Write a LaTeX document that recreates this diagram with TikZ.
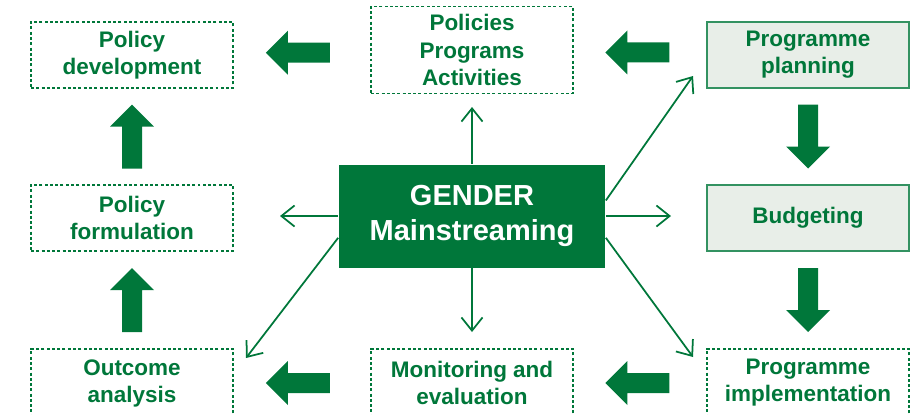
\documentclass[tikz,border=0pt]{standalone}
\usepackage{fontspec}
\setmainfont{Liberation Sans}
\usetikzlibrary{calc,arrows.meta}

\definecolor{gmgreen}{HTML}{00773A}
\definecolor{gmpale}{HTML}{E8EEE8}

\tikzset{
	stagebox/.style={draw=gmgreen, line width=0.8pt, dash pattern=on 1.7pt off 1.3pt,
		minimum width=4.04cm, minimum height=1.32cm, align=center, inner sep=0pt,
		text=gmgreen, font=\fontsize{12.8}{15.4}\selectfont\bfseries},
	planbox/.style={stagebox, solid, fill=gmpale, draw=gmgreen!80},
	thinarrow/.style={draw=gmgreen, line width=1pt,
		-{Straight Barb[length=7.5pt,width=12pt,line width=1pt]}},
	fatarrow/.pic={\fill[gmgreen] (-32,-10) -- (10,-10) -- (10,-22) -- (32,0)
		-- (10,22) -- (10,10) -- (-32,10) -- cycle;}
}

\begin{document}
\begin{tikzpicture}[x=0.02cm, y=-0.02cm]
		\useasboundingbox (0,0) rectangle (915,414);

		% the boxes
		\node[stagebox] (poldev) at (132,55) {Policy\\development};
		\node[stagebox, minimum height=1.74cm] (ppa) at (472,50) {Policies\\Programs\\Activities};
		\node[planbox] (plan) at (808,55) {Programme\\planning};
		\node[stagebox] (polform) at (132,218) {Policy\\formulation};
		\node[fill=gmgreen, minimum width=5.34cm, minimum height=2.06cm, align=center,
			text=white, font=\fontsize{16.5}{19.5}\selectfont\bfseries] (gender) at (472,216) {GENDER\\Mainstreaming};
		\node[planbox] (budget) at (808,218) {Budgeting};
		\node[stagebox, minimum height=1.36cm] (outcome) at (132,383) {Outcome\\analysis};
		\node[stagebox, minimum height=1.36cm] (monitor) at (472,383) {Monitoring and\\evaluation};
		\node[stagebox, minimum height=1.36cm] (impl) at (808,383) {Programme\\implementation};

		% the cycle
		\pic[rotate=180] at ($(poldev.east)!0.47!(ppa.west)$ |- poldev) {fatarrow};
		\pic[rotate=180] at ($(ppa.east)!0.48!(plan.west)$ |- plan) {fatarrow};
		\pic[rotate=90] at ($(polform.north)!0.5!(poldev.south)$) {fatarrow};
		\pic[rotate=90] at ($(outcome.north)!0.5!(polform.south)$) {fatarrow};
		\pic[rotate=-90] at ($(plan.south)!0.5!(budget.north)$) {fatarrow};
		\pic[rotate=-90] at ($(budget.south)!0.5!(impl.north)$) {fatarrow};
		\pic[rotate=180] at ($(outcome.east)!0.47!(monitor.west)$) {fatarrow};
		\pic[rotate=180] at ($(monitor.east)!0.48!(impl.west)$) {fatarrow};

		% out from the centre
		\coordinate (tipn) at (472,107);
		\coordinate (tips) at (472,332);
		\coordinate (tipw) at (280,216);
		\coordinate (tipe) at (671,216);
		\coordinate (tipne) at (693,76);
		\coordinate (tipse) at (693,357);
		\coordinate (tipsw) at (246,358);
		\draw[thinarrow] (gender.north) -- (tipn);
		\draw[thinarrow] (gender.south) -- (tips);
		\draw[thinarrow] (gender.west) -- (tipw);
		\draw[thinarrow] (gender.east) -- (tipe);
		\draw[thinarrow] ($(gender.north east)!0.35!(gender.south east)$) -- (tipne);
		\draw[thinarrow] ($(gender.north east)!0.71!(gender.south east)$) -- (tipse);
		\draw[thinarrow] ($(gender.north west)!0.71!(gender.south west)$) -- (tipsw);
	\end{tikzpicture}
\end{document}
